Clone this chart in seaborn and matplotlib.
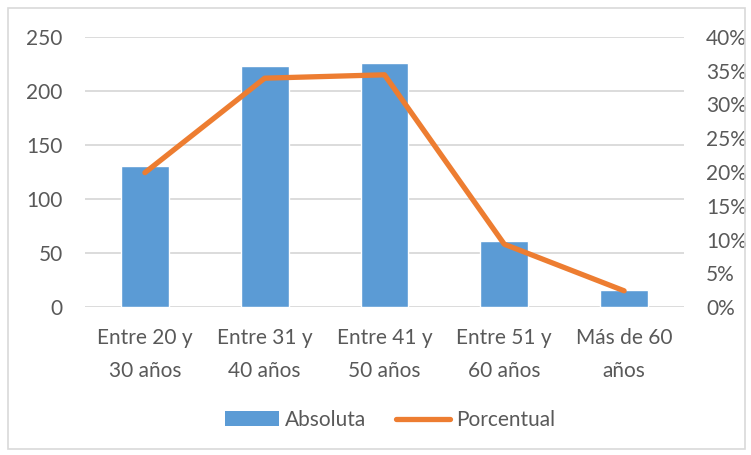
import matplotlib
matplotlib.use("Agg")
import matplotlib.pyplot as plt
import seaborn as sns
import pandas as pd
from matplotlib.patches import Rectangle, Patch
from matplotlib.lines import Line2D
from matplotlib.ticker import FuncFormatter, MultipleLocator

categories = ["Entre 20 y\n30 años", "Entre 31 y\n40 años", "Entre 41 y\n50 años",
              "Entre 51 y\n60 años", "Más de 60\naños"]
absoluta = [131, 223, 226, 61, 16]
porcentual = [0.199, 0.339, 0.344, 0.093, 0.024]

sns.set_theme(style="white")
plt.rcParams['font.family'] = ['Lato', 'DejaVu Sans']

TXT = "#595959"
BLUE = "#5B9BD5"
ORANGE = "#ED7D31"
GRID = "#D9D9D9"
FS = 15

df = pd.DataFrame({"cat": categories, "abs": absoluta, "pct": porcentual})

fig = plt.figure(figsize=(7.51, 4.55), dpi=100)
ax = fig.add_axes([85/751, 1-307/455, (684-85)/751, (307-37)/455])

sns.barplot(data=df, x="cat", y="abs", color=BLUE, width=0.4, saturation=1,
            ax=ax, zorder=2)
ax.set_ylim(0, 250)
ax.yaxis.set_major_locator(MultipleLocator(50))
ax.grid(axis="y", color=GRID, linewidth=1.3, zorder=0)
ax.set_axisbelow(True)
for s in ax.spines.values():
    s.set_visible(False)
ax.set_xlabel("")
ax.set_ylabel("")
ax.tick_params(axis="y", length=0, pad=16, labelsize=FS, labelcolor=TXT)
ax.tick_params(axis="x", length=0, pad=15, labelsize=FS, labelcolor=TXT)
for lbl in ax.get_xticklabels():
    lbl.set_linespacing(1.85)

ax2 = ax.twinx()
sns.lineplot(data=df, x="cat", y="pct", color=ORANGE, linewidth=3.8, ax=ax2,
             sort=False, solid_capstyle="round", solid_joinstyle="round")
ax2.set_ylim(0, 0.40)
ax2.yaxis.set_major_locator(MultipleLocator(0.05))
ax2.yaxis.set_major_formatter(FuncFormatter(lambda v, p: f"{round(v*100)}%"))
for s in ax2.spines.values():
    s.set_visible(False)
ax2.set_ylabel("")
ax2.grid(False)
ax2.tick_params(axis="y", length=0, pad=16, labelsize=FS, labelcolor=TXT)
ax.set_xlim(-0.5, 4.5)

fig.patches.append(Rectangle((8/751, 6/455), (745-8)/751, (449-8)/455,
                             transform=fig.transFigure, fill=False,
                             edgecolor=GRID, linewidth=1.2))

handles = [Patch(facecolor=BLUE, edgecolor="none"),
           Line2D([0], [0], color=ORANGE, linewidth=3.8, solid_capstyle="round")]
fig.legend(handles, ["Absoluta", "Porcentual"], loc="center",
           bbox_to_anchor=(390/751, 1-420/455), ncol=2, frameon=False,
           fontsize=FS, labelcolor=TXT, handlelength=2.6, handleheight=0.7,
           handletextpad=0.3, columnspacing=1.4)

fig.savefig("out.png", dpi=100)
